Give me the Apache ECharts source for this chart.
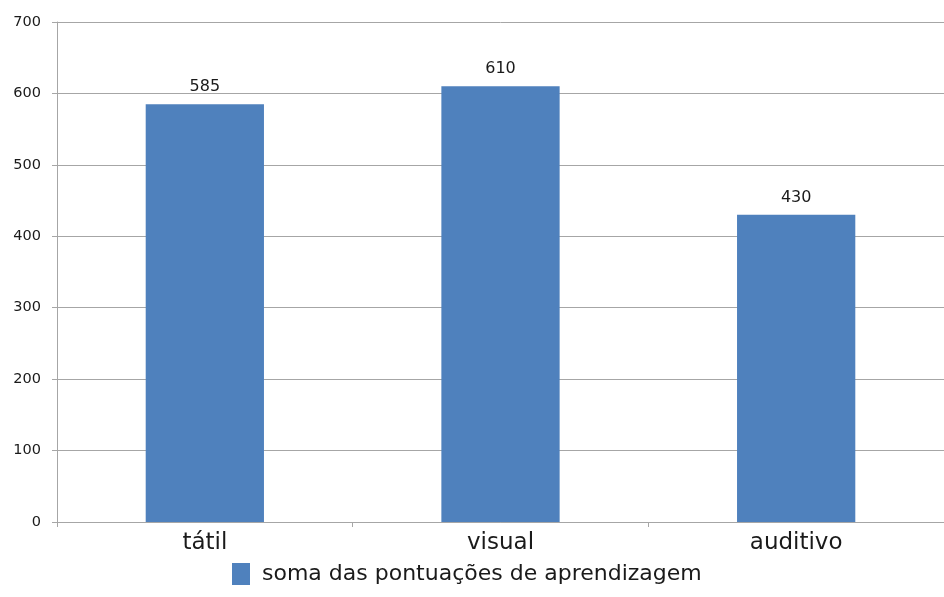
<!DOCTYPE html>
<html><head><meta charset="utf-8">
<script src="https://cdn.jsdelivr.net/npm/echarts@6/dist/echarts.min.js"></script>
<style>html,body{margin:0;padding:0;background:#fff}#c{width:944px;height:597px}</style>
</head><body><div id="c"></div>
<script>
const categories = ['tátil', 'visual', 'auditivo'];
const values = [585, 610, 430];
const seriesName = 'soma das pontuações de aprendizagem';
const yTicks = { min: 0, max: 700, interval: 100 };

const FONT = 'DejaVu Sans, sans-serif';
const chart = echarts.init(document.getElementById('c'), null, { renderer: 'canvas' });
chart.setOption({
  animation: false,
  backgroundColor: '#ffffff',
  textStyle: { fontFamily: FONT },
  grid: { left: 57, right: 0, top: 22, bottom: 75 },
  legend: {
    top: 563, left: 232, padding: 0,
    itemWidth: 18, itemHeight: 22, itemGap: 10,
    icon: 'rect',
    textStyle: { fontSize: 22, color: '#1a1a1a', fontFamily: FONT, padding: [0, 0, 0, 7] },
    data: [seriesName]
  },
  xAxis: {
    type: 'category', data: categories,
    axisLine: { lineStyle: { color: '#a6a6a6', width: 1 } },
    axisTick: { show: true, length: 5, lineStyle: { color: '#a6a6a6' } },
    axisLabel: { fontSize: 23, color: '#1a1a1a', margin: 10, fontFamily: FONT }
  },
  yAxis: {
    type: 'value', min: yTicks.min, max: yTicks.max, interval: yTicks.interval,
    axisLine: { show: true, lineStyle: { color: '#a6a6a6' } },
    axisTick: { show: true, length: 5, lineStyle: { color: '#a6a6a6' } },
    axisLabel: { fontSize: 14.5, color: '#1a1a1a', margin: 16, fontFamily: FONT },
    splitLine: { lineStyle: { color: '#a6a6a6', width: 1 } }
  },
  series: [{
    name: seriesName, type: 'bar', data: values,
    barWidth: '40%',
    itemStyle: { color: '#4f81bd' },
    label: { show: true, position: 'top', fontSize: 16, color: '#1a1a1a', distance: 9, fontFamily: FONT }
  }]
});
</script></body></html>
